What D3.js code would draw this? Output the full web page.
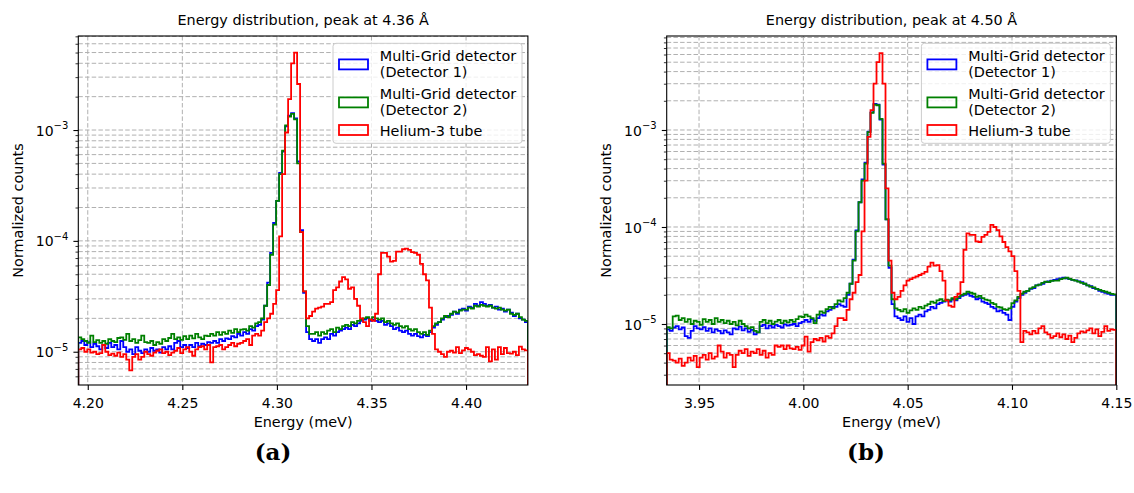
<!DOCTYPE html>
<html><head><meta charset="utf-8">
<script src="https://cdn.jsdelivr.net/npm/d3@7"></script>
<style>
body{margin:0;background:#fff}
svg{display:block}
text{fill:#000}
</style></head>
<body><svg id="c" width="1134" height="493"></svg>
<script>
// ---------- DATA (values in units of 1e-5 normalized counts) ----------
const UNIT = 1e-5;
const leftRange = [4.1950, 4.4327];      // histogram bin range (meV)
const rightRange = [3.9345, 4.15];
const leftYDomain = [5.01e-6, 7.05e-3];
const rightYDomain = [2.35e-6, 9.31e-3];
const leftXTicks = [4.20, 4.25, 4.30, 4.35, 4.40];
const rightXTicks = [3.95, 4.00, 4.05, 4.10, 4.15];
const yTickLabels = ["10\u22125", "10\u22124", "10\u22123"];
const titles = ["Energy distribution, peak at 4.36 \u00c5", "Energy distribution, peak at 4.50 \u00c5"];
const captions = ["(a)", "(b)"];
const legendLabels = [["Multi-Grid detector", "(Detector 1)"], ["Multi-Grid detector", "(Detector 2)"], ["Helium-3 tube"]];
const seriesColors = ["#0000ff", "#008000", "#ff0000"];

const leftBlue = [1.2,1.25,1.15,1.22,1.1,1.18,1.12,1.05,1.15,1.08,1.2,1.1,1.15,1.05,1.25,1.1,1.0,1.05,0.95,1.1,1.02,0.97,1.05,1.0,1.08,1.02,1.05,0.98,1.1,1.05,1.12,1.05,1.2,1.25,1.1,1.15,1.08,1.15,1.1,1.2,1.12,1.18,1.15,1.22,1.2,1.25,1.2,1.3,1.25,1.32,1.3,1.38,1.35,1.45,1.4,
1.5,1.45,1.6,1.55,1.7,1.75,1.95,2.6,4.2,7.8,14.5,23,41,64,108,135,142,127,52,12.5,3.4,1.5,1.3,
1.25,1.3,1.2,1.3,1.35,1.3,1.45,1.4,1.5,1.55,1.6,1.65,1.6,1.75,1.7,1.8,1.9,1.95,2.0,1.9,1.95,1.9,1.85,1.9,1.75,1.8,1.7,1.6,1.65,1.55,1.5,1.55,1.45,1.4,1.45,1.38,1.35,1.42,1.38,1.5,1.65,1.75,1.85,1.95,2.05,2.1,2.15,2.3,2.2,2.4,2.45,2.35,2.55,2.5,2.7,2.6,2.8,2.7,2.6,2.65,2.5,2.55,2.4,2.45,2.3,2.4,2.25,2.1,2.2,2.0,1.95,1.85];
const leftGreen = [1.35,1.3,1.25,1.2,1.4,1.22,1.27,1.2,1.25,1.18,1.3,1.25,1.22,1.33,1.35,1.28,1.45,1.25,1.3,1.2,1.27,1.4,1.22,1.2,1.25,1.15,1.22,1.18,1.3,1.25,1.33,1.45,1.3,1.35,1.28,1.38,1.3,1.4,1.32,1.45,1.35,1.3,1.4,1.38,1.45,1.4,1.5,1.42,1.5,1.45,1.55,1.48,1.6,1.5,1.58,
1.6,1.55,1.7,1.65,1.8,1.85,2.0,2.6,4.0,7.5,14,23,40,65,110,132,140,125,50,12,3.5,1.7,1.45,
1.45,1.5,1.4,1.5,1.45,1.55,1.6,1.5,1.65,1.6,1.7,1.75,1.7,1.85,1.8,1.9,1.95,2.0,2.05,1.95,2.05,2.0,1.95,2.0,1.85,1.9,1.8,1.75,1.8,1.7,1.65,1.7,1.6,1.55,1.6,1.5,1.45,1.5,1.42,1.55,1.7,1.8,1.85,2.0,2.1,2.05,2.2,2.3,2.25,2.35,2.4,2.4,2.5,2.45,2.6,2.55,2.65,2.6,2.55,2.6,2.5,2.45,2.5,2.4,2.35,2.4,2.2,2.15,2.2,2.05,1.95,1.9];
const leftRed = [1.05,1.08,1.0,1.05,0.98,1.0,0.95,0.97,1.15,1.0,0.93,0.96,0.92,0.98,0.9,0.95,0.85,0.68,0.9,0.95,0.85,0.9,1.0,0.95,0.92,0.98,1.02,1.05,0.97,1.0,0.93,0.98,1.02,1.08,0.97,1.05,1.1,1.0,0.92,1.05,1.1,1.12,1.05,1.15,0.8,1.1,1.12,1.15,1.05,1.1,1.15,1.2,1.12,1.18,1.2,
1.25,1.3,1.15,1.4,1.45,1.4,1.55,1.85,2.0,2.2,2.7,3.6,11,40,95,190,400,500,260,12,3.5,2.0,2.1,
2.3,2.45,2.5,2.55,2.7,2.7,2.8,3.6,3.8,4.3,4.7,4.5,3.7,3.8,3.0,2.6,2.0,1.85,1.7,1.95,1.9,2.2,5.0,7.8,7.8,7.2,6.5,6.6,8.0,8.0,8.4,8.5,8.3,7.9,7.8,7.5,6.2,5.0,4.4,2.5,1.45,1.05,1.0,0.95,0.9,1.0,1.02,0.98,1.1,0.97,1.03,1.08,1.05,1.0,0.93,0.95,0.92,0.9,1.1,0.82,1.05,0.85,1.1,0.95,1.08,0.97,0.96,1.0,0.93,1.11,1.05,1.03];

const rightBlue = [0.88,0.85,0.92,0.95,0.88,0.92,0.75,0.72,0.85,0.95,0.9,0.88,0.93,0.85,0.9,0.82,0.88,0.85,0.8,0.86,0.82,0.78,0.9,0.88,0.94,0.86,0.9,0.83,0.87,0.78,0.82,0.95,0.98,0.9,0.96,0.92,0.98,0.95,0.92,0.99,0.96,0.98,1.0,0.95,1.02,1.05,1.1,1.05,1.12,1.08,1.15,1.25,1.22,1.35,1.4,1.5,
1.5,1.6,1.55,1.5,2.0,2.6,4.6,9.2,18,31,46,96,152,186,182,128,44,12,3.8,1.6,1.2,
1.15,1.1,1.2,1.05,1.15,1.0,1.2,1.25,1.2,1.35,1.4,1.5,1.45,1.6,1.65,1.7,1.75,1.7,1.8,1.75,1.85,1.95,2.0,2.05,1.95,1.9,1.8,1.85,1.7,1.65,1.6,1.5,1.45,1.35,1.38,1.3,1.25,1.1,1.5,1.7,1.85,2.0,2.1,2.2,2.3,2.35,2.5,2.55,2.6,2.7,2.75,2.8,2.85,2.9,2.95,3.0,2.95,2.9,2.85,2.82,2.75,2.7,2.6,2.5,2.45,2.35,2.3,2.2,2.15,2.1,2.05,2.0,2.0];
const rightGreen = [0.93,0.9,1.2,1.22,1.1,1.15,1.05,1.12,1.0,1.08,1.05,0.98,1.12,1.05,1.1,1.0,1.15,1.05,1.1,1.02,1.08,1.0,1.05,0.97,1.08,1.0,0.95,0.9,0.93,0.85,0.82,1.05,1.1,1.02,1.08,1.0,1.06,1.1,1.02,1.08,1.04,1.1,1.05,1.12,1.2,1.18,1.25,1.2,1.15,1.02,1.25,1.35,1.3,1.42,1.5,1.45,
1.6,1.75,1.7,1.85,2.1,2.6,4.5,9,18,30,45,95,150,183,180,130,45,12,4,1.8,1.45,
1.4,1.35,1.42,1.3,1.38,1.45,1.4,1.5,1.45,1.55,1.6,1.7,1.65,1.75,1.8,1.72,1.78,1.75,1.85,1.8,1.9,2.0,2.05,2.15,2.1,2.05,1.9,1.95,1.85,1.78,1.75,1.65,1.6,1.5,1.48,1.42,1.4,1.45,1.64,1.75,1.9,2.05,2.15,2.2,2.33,2.4,2.5,2.55,2.65,2.73,2.7,2.78,2.8,2.8,2.9,2.95,3.0,2.92,2.85,2.8,2.73,2.65,2.6,2.5,2.43,2.38,2.3,2.25,2.2,2.15,2.1,2.04,2.02];
const rightRed = [0.5,0.43,0.42,0.4,0.44,0.37,0.4,0.45,0.42,0.47,0.36,0.45,0.48,0.43,0.5,0.44,0.46,0.6,0.52,0.45,0.5,0.48,0.36,0.48,0.53,0.5,0.55,0.47,0.52,0.5,0.55,0.48,0.53,0.45,0.5,0.48,0.6,0.58,0.6,0.55,0.6,0.56,0.55,0.58,0.54,0.6,0.74,0.52,0.65,0.7,0.68,0.72,0.66,0.75,0.72,0.8,
0.95,1.15,1.15,1.1,1.4,1.8,2.1,2.7,3.2,9,30,85,160,300,500,620,300,25,4.5,2.1,1.8,
1.9,2.2,2.5,2.8,2.9,3.0,3.1,3.2,3.3,3.45,3.9,4.3,4.0,4.05,3.5,2.8,1.75,1.55,1.5,1.9,2.05,2.7,5.8,8.6,8.3,8.3,7.1,7.0,7.9,8.3,8.9,10.5,10.0,9.3,8.0,7.0,6.2,5.6,5.0,3.5,2.2,0.65,0.85,0.82,0.78,0.85,0.8,0.9,0.95,0.82,0.78,0.72,0.75,0.8,0.73,0.78,0.7,0.76,0.65,0.72,0.8,0.84,0.82,0.86,0.9,0.8,0.88,0.75,0.83,0.95,0.85,0.88,0.87];

// ---------- LAYOUT ----------
const plotW = 449.6, plotH = 349, plotTop = 36;
const SANS = "'DejaVu Sans', sans-serif";
const panels = [
  {x0: 78.3, range: leftRange, yDomain: leftYDomain, xTicks: leftXTicks, series: [leftBlue, leftGreen, leftRed], title: titles[0], caption: captions[0], capX: 273},
  {x0: 666.7, range: rightRange, yDomain: rightYDomain, xTicks: rightXTicks, series: [rightBlue, rightGreen, rightRed], title: titles[1], caption: captions[1], capX: 866}
];
const svg = d3.select("#c");
const gridColor = "#b0b0b0";

panels.forEach((p, pi) => {
  const g = svg.append("g").attr("transform", `translate(${p.x0},${plotTop})`);
  const x = d3.scaleLinear().domain(p.range).range([0, plotW]);
  const y = d3.scaleLog().domain(p.yDomain).range([plotH, 0]);

  const majors = [1e-5, 1e-4, 1e-3];
  const minors = [];
  for (let e = -6; e <= -2; e++) for (let m = 2; m <= 9; m++) {
    const v = m * Math.pow(10, e);
    if (v >= p.yDomain[0] && v <= p.yDomain[1]) minors.push(v);
  }

  // grid
  const grid = g.append("g").attr("stroke", gridColor).attr("stroke-width", 1).attr("stroke-dasharray", "4.5,2.2").attr("fill", "none");
  p.xTicks.forEach(t => { if (t < p.range[1] - 1e-9) grid.append("line").attr("x1", x(t)).attr("x2", x(t)).attr("y1", 0).attr("y2", plotH); });
  majors.concat(minors).forEach(v => grid.append("line").attr("x1", 0).attr("x2", plotW).attr("y1", y(v)).attr("y2", y(v)));

  // clip
  const cid = "clip" + pi;
  g.append("clipPath").attr("id", cid).append("rect").attr("x", 0).attr("y", 0).attr("width", plotW).attr("height", plotH);

  // step histograms
  const line = d3.line().x(d => x(d[0])).y(d => d[1] === null ? plotH + 20 : y(d[1] * UNIT)).curve(d3.curveStepAfter);
  p.series.forEach((vals, si) => {
    const n = vals.length, w = (p.range[1] - p.range[0]) / n;
    const pts = [[p.range[0], null]];
    vals.forEach((v, i) => pts.push([p.range[0] + i * w, v]));
    pts.push([p.range[1], vals[n - 1]]);
    pts.push([p.range[1], null]);
    g.append("path").attr("clip-path", `url(#${cid})`).attr("d", line(pts))
      .attr("fill", "none").attr("stroke", seriesColors[si]).attr("stroke-width", 1.8).attr("stroke-linejoin", "miter");
  });

  // axes
  const xAxis = g.append("g").attr("transform", `translate(0,${plotH})`)
    .call(d3.axisBottom(x).tickValues(p.xTicks).tickFormat(d3.format(".2f")).tickSize(4.9).tickPadding(4.5));
  xAxis.select(".domain").remove();
  xAxis.selectAll("line").attr("stroke", "#000").attr("stroke-width", 1.1);
  xAxis.selectAll("text").style("font-family", SANS).style("font-size", "14px").attr("fill", "#000").attr("dy", null).attr("y", 23.3);

  const yMinor = g.append("g").call(d3.axisLeft(y).tickValues(minors).tickFormat("").tickSize(2.8));
  yMinor.select(".domain").remove();
  yMinor.selectAll("line").attr("stroke", "#000").attr("stroke-width", 0.8);

  const yAxis = g.append("g").call(d3.axisLeft(y).tickValues(majors).tickSize(4.9).tickPadding(4.2).tickFormat((d, i) => yTickLabels[i]));
  yAxis.select(".domain").remove();
  yAxis.selectAll("line").attr("stroke", "#000").attr("stroke-width", 1.1);
  yAxis.selectAll("text").each(function(d, i) {
    const t = d3.select(this);
    const lab = yTickLabels[i];
    t.text(null).style("font-family", SANS).style("font-size", "14px").attr("fill", "#000").attr("dy", "0.36em").attr("x", -10);
    t.append("tspan").text(lab.slice(0, 2));
    t.append("tspan").text(lab.slice(2)).style("font-size", "10px").attr("dy", "-0.62em");
  });

  // frame
  g.append("rect").attr("x", 0).attr("y", 0).attr("width", plotW).attr("height", plotH)
    .attr("fill", "none").attr("stroke", "#000").attr("stroke-width", 1.1);

  // title and labels
  const txt = (sel) => sel.style("font-family", SANS).style("font-size", "14.4px");
  txt(svg.append("text").attr("x", p.x0 + plotW / 2).attr("y", 25).attr("text-anchor", "middle")).text(p.title);
  txt(svg.append("text").attr("x", p.x0 + plotW / 2).attr("y", 426.6).attr("text-anchor", "middle")).text("Energy (meV)");
  txt(svg.append("text").attr("transform", `translate(${p.x0 - 55.5},${plotTop + plotH / 2}) rotate(-90)`)
    .attr("text-anchor", "middle")).text("Normalized counts");

  // legend
  const lx = 254.7, ly = 7.3;
  const lg = g.append("g").attr("transform", `translate(${lx},${ly})`);
  lg.append("rect").attr("x", 0).attr("y", 0).attr("width", 189).attr("height", 100).attr("rx", 3)
    .attr("fill", "#fff").attr("fill-opacity", 0.8).attr("stroke", "#cccccc").attr("stroke-width", 1);
  const patchY = [16.1, 54.1, 81.7];
  const textY = [[18.2, 34.1], [56, 71.5], [92.7]];
  legendLabels.forEach((labs, k) => {
    lg.append("rect").attr("x", 6).attr("y", patchY[k]).attr("width", 29).attr("height", 10)
      .attr("fill", "none").attr("stroke", seriesColors[k]).attr("stroke-width", 1.8);
    labs.forEach((s, j) => txt(lg.append("text").attr("x", 46.8).attr("y", textY[k][j])).text(s));
  });

  // caption
  svg.append("text").attr("x", p.capX).attr("y", 460).attr("text-anchor", "middle")
    .style("font-family", "'DejaVu Serif', 'Liberation Serif', serif").style("font-weight", "bold").style("font-size", "23px").text(p.caption);
});
</script>
</body></html>
